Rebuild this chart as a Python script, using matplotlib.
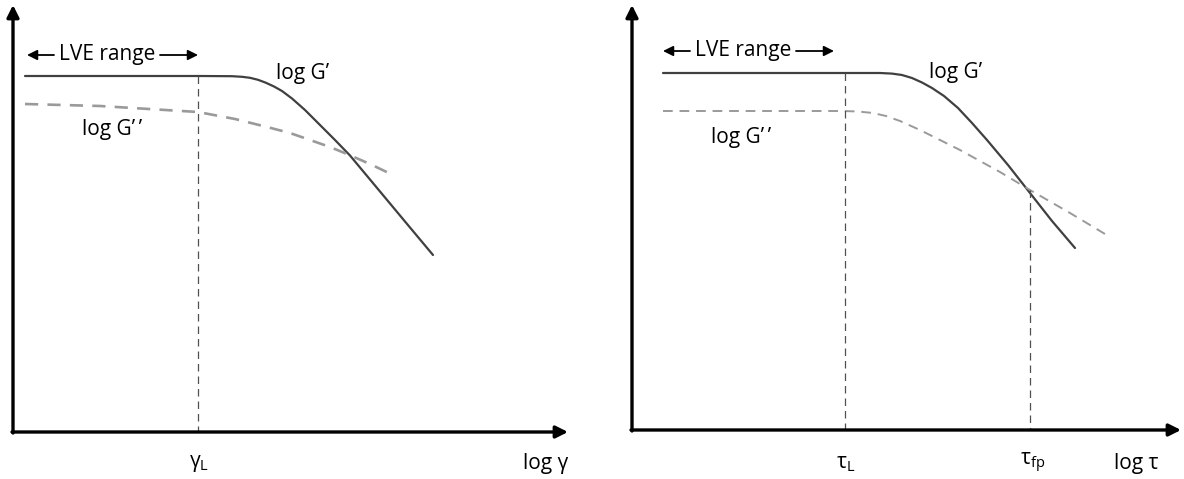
import matplotlib.pyplot as plt

plt.rcParams.update({
    "font.family": ["Open Sans", "DejaVu Sans"],
    "mathtext.fontset": "custom",
    "mathtext.rm": "Open Sans",
    "mathtext.it": "Open Sans",
})

# schematic curves, in picture units (x right, y down)
left_gp_x = [25, 200, 232, 242, 250, 258, 266, 274, 282, 292, 305, 320, 335, 350, 370, 390, 410, 433]
left_gp_y = [76, 76, 76.2, 76.8, 77.8, 79.8, 82.8, 86.5, 91, 98.5, 110, 125, 140, 155.5, 179.5, 203.5, 227.5, 255]
left_gpp_x = [25, 100, 198, 235, 267, 290, 310, 330, 347, 370, 395]
left_gpp_y = [104, 106, 112, 119, 127, 133, 140, 147, 154, 164, 176]

right_gp_x = [663, 845, 880, 892, 902, 912, 922, 932, 944, 958, 972, 987, 1008, 1030, 1052, 1075]
right_gp_y = [73, 73, 73, 73.6, 75, 78, 82.5, 88, 96, 108, 123, 140, 165, 193, 221, 248]
right_gpp_x = [663, 843, 858, 873, 886, 900, 920, 940, 960, 980, 1000, 1030, 1070, 1110]
right_gpp_y = [111, 111, 111.5, 113, 116, 121, 130, 140, 150, 161, 172, 190, 213, 237]

# vertical markers: x, top y
left_marks = [(198, 76)]
right_marks = [(845, 73), (1030, 190)]

fig = plt.figure(figsize=(11.84, 4.79), dpi=100)
ax = fig.add_axes([0, 0, 1, 1])
ax.set_xlim(0, 1184)
ax.set_ylim(479, 0)
ax.axis("off")

solid = dict(color="#404040", lw=1.6, solid_capstyle="round", solid_joinstyle="round")

# axes with arrows
def draw_axes(x0, y0, x1, y1):
    ax.annotate("", xy=(x0, y1), xytext=(x0, y0 + 1),
                arrowprops=dict(arrowstyle="-|>", lw=2.4, color="black", mutation_scale=18,
                                shrinkA=0, shrinkB=0))
    ax.annotate("", xy=(x1, y0), xytext=(x0 - 1, y0),
                arrowprops=dict(arrowstyle="-|>", lw=2.4, color="black", mutation_scale=18,
                                shrinkA=0, shrinkB=0))

draw_axes(13, 432, 568, 5)
draw_axes(632, 430, 1181, 5)

# left panel
ax.plot(left_gp_x, left_gp_y, **solid)
ax.plot(left_gpp_x, left_gpp_y, color="#9a9a9a", lw=1.9, dashes=(5, 3.5))
for mx, my in left_marks:
    ax.plot([mx, mx], [my, 431], color="#505050", lw=0.9, dashes=(6, 4))

# right panel
ax.plot(right_gp_x, right_gp_y, **solid)
ax.plot(right_gpp_x, right_gpp_y, color="#9a9a9a", lw=1.4, dashes=(5, 3.5))
for mx, my in right_marks:
    ax.plot([mx, mx], [my, 429], color="#505050", lw=0.9, dashes=(6, 4))

fs = 15

def lve(xl, xt0, xt1, xr, y):
    arr = dict(arrowstyle="-|>", lw=1.3, color="black", mutation_scale=15, shrinkA=0, shrinkB=0)
    ax.annotate("", xy=(xl, y), xytext=(xt0 - 3, y), arrowprops=arr)
    ax.annotate("", xy=(xr, y), xytext=(xt1 + 2, y), arrowprops=arr)
    ax.text((xt0 + xt1) / 2, y - 1, "LVE range", fontsize=fs, ha="center", va="center")

lve(27, 57, 158, 198, 55)
lve(663, 693, 794, 834, 51)

ax.text(276, 73, "log G\u2019", fontsize=fs, ha="left", va="center")
ax.text(82, 130, "log G\u2019\u2009\u2019", fontsize=fs, ha="left", va="center")
ax.text(929, 72, "log G\u2019", fontsize=fs, ha="left", va="center")
ax.text(711, 137, "log G\u2019\u2009\u2019", fontsize=fs, ha="left", va="center")

ax.text(199, 463, r"$\mathrm{\gamma_L}$", fontsize=fs, ha="center", va="center")
ax.text(546, 463, "log \u03b3", fontsize=fs, ha="center", va="center")
ax.text(846, 463, r"$\mathrm{\tau_L}$", fontsize=fs, ha="center", va="center")
ax.text(1033, 463, r"$\mathrm{\tau_{fp}}$", fontsize=fs, ha="center", va="center")
ax.text(1136, 463, "log \u03c4", fontsize=fs, ha="center", va="center")

fig.savefig("out.png", dpi=100)
